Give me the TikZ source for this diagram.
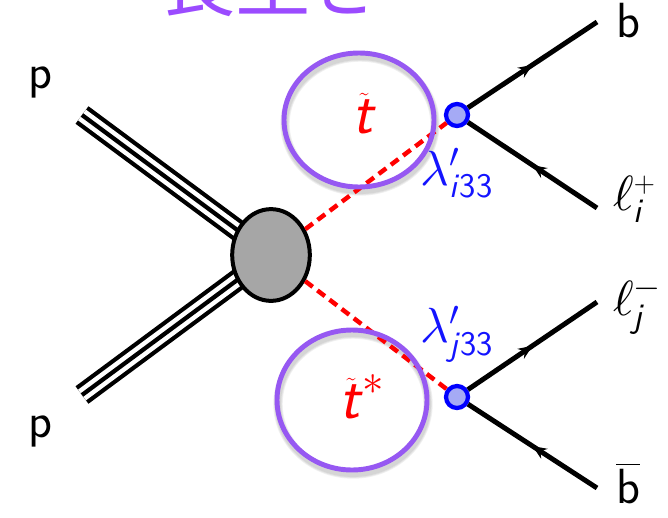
\documentclass[tikz,border=0pt]{standalone}
\usepackage{amsmath}
\usepackage{fontspec}
\DeclareFontFamily{OML}{cmm}{\skewchar\font'177}
\DeclareFontShape{OML}{cmm}{m}{it}{<-> cmmi10}{}
\DeclareFontShape{OML}{cmm}{b}{it}{<-> cmmib10}{}
\DeclareFontFamily{OMS}{cmsy}{\skewchar\font'60}
\DeclareFontShape{OMS}{cmsy}{m}{n}{<-> cmsy10}{}
\DeclareFontShape{OMS}{cmsy}{b}{n}{<-> cmbsy10}{}
\newfontfamily\cjk{Noto Sans CJK JP}
\usetikzlibrary{arrows.meta,decorations.markings,shapes.geometric}
\definecolor{ringpurple}{RGB}{150,88,242}
\definecolor{jppurple}{RGB}{155,75,255}
\definecolor{vfill}{RGB}{165,170,245}
\definecolor{blobgray}{RGB}{166,166,166}
\definecolor{lamblue}{RGB}{20,20,255}
\pgfdeclarelayer{bg}
\pgfsetlayers{bg,main}
\tikzset{
  lbl/.style={font=\sffamily\fontsize{42}{50}\selectfont, inner sep=0pt},
  tlbl/.style={font=\sffamily\fontsize{52}{60}\selectfont, inner sep=0pt, text=red},
  blob/.style={ellipse, draw=black, fill=blobgray, line width=3.4pt, minimum width=66pt, minimum height=78pt, inner sep=0pt},
  vtx/.style={circle, draw=blue, fill=vfill, line width=3.6pt, minimum size=18.7pt, inner sep=0pt},
  fline/.style={draw=black, line width=4.2pt},
  fermion/.style={fline, postaction={decorate}, decoration={markings, mark=at position 0.5 with {\arrow{Stealth[length=12pt,width=10pt,inset=4pt]}}}},
  sline/.style={draw=red, line width=3.8pt, dash pattern=on 8pt off 5pt},
  ring/.style={draw=ringpurple, line width=4.2pt},
  ringshadow/.style={draw=black, opacity=0.06},
}
\begin{document}
\begin{tikzpicture}[x=0.85pt,y=-0.85pt]
\useasboundingbox (0,0) rectangle (668,517);
\clip (0,0) rectangle (668,517);

% heading (cut off at top)
\node[anchor=base west, inner sep=0pt, text=jppurple, font=\cjk\fontsize{64}{70}\selectfont] (head) at (160,11) {長生き};

% nodes
\coordinate (pa) at (82,115);
\coordinate (pb) at (82,395);
\node[blob] (blob) at (271,255) {};
\node[vtx] (v1) at (457,115) {};
\node[vtx] (v2) at (457,397) {};
\coordinate (e1) at (597,22);
\coordinate (e2) at (597,208);
\coordinate (e3) at (597,302);
\coordinate (e4) at (597,488);

% proton lines (triple)
\begin{pgfonlayer}{bg}
\foreach \s in {pa,pb}{
  \draw[line width=18.5pt, black] (\s) -- (blob.center);
  \draw[line width=11.3pt, white] (\s) -- (blob.center);
  \draw[line width=3.6pt, black] (\s) -- (blob.center);
}
\end{pgfonlayer}

% ring shadows
\foreach \w in {8,6.5,5}{
  \draw[ringshadow, line width=\w pt] (360,124) ellipse [x radius=75, y radius=67];
  \draw[ringshadow, line width=\w pt] (353,404) ellipse [x radius=75, y radius=70];
}

% scalar lines
\draw[sline] (blob) -- (v1);
\draw[sline] (blob) -- (v2);

% rings
\draw[ring] (359,120) ellipse [x radius=75, y radius=67];
\draw[ring] (352,400) ellipse [x radius=75, y radius=70];

% fermion lines
\draw[fermion] (v1) -- (e1);
\draw[fermion] (e2) -- (v1);
\draw[fermion] (v2) -- (e3);
\draw[fermion] (e4) -- (v2);

% labels
\node[lbl, anchor=base] (p1) at (40,88) {p};
\node[lbl, anchor=base] (p2) at (40,437) {p};
\node[lbl, anchor=base] (lb) at (628,38) {b};
\node[lbl, anchor=base] (lbb) at (628,503) {$\overline{\mbox{b}}$};
\node[lbl, anchor=base west] (li) at (613,210) {$\ell^{+}_{\textsf{\textit{i}}}$};
\node[lbl, anchor=base west] (lj) at (613,315) {$\ell^{-}_{\textsf{\textit{j}}}$};
\node[tlbl] (st) at (364,114) {$\tilde{\textsf{\textit{t}}}$};
\node[tlbl] (sts) at (362,397) {$\tilde{\textsf{\textit{t}}}^{*}$};
\node[lbl, text=lamblue] (lam1) at (457,173) {$\lambda'_{\textsf{\textit{i}33}}$};
\node[lbl, text=lamblue] (lam2) at (457,334) {$\lambda'_{\textsf{\textit{j}33}}$};
\end{tikzpicture}
\end{document}
